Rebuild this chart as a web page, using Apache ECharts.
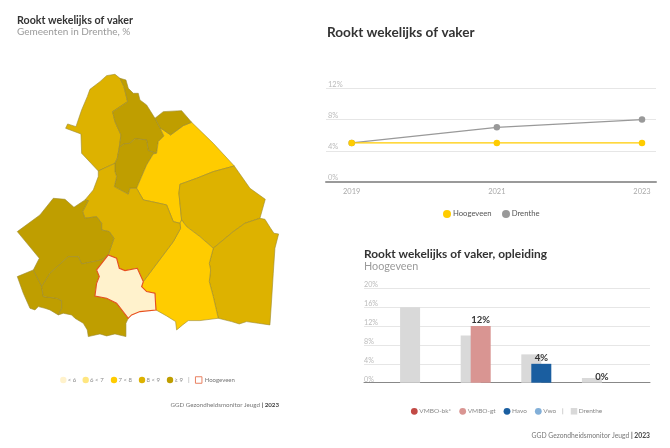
<!DOCTYPE html>
<html>
<head>
<meta charset="utf-8">
<style>html,body{margin:0;padding:0;background:#fff}#c{width:670px;height:448px}</style>
<script src="https://cdn.jsdelivr.net/npm/echarts@6/dist/echarts.min.js"></script>
</head>
<body>
<div id="c"></div>
<script>
// Map classes
const classLabels = ['< 6', '6 < 7', '7 < 8', '8 < 9', '≥ 9'];
const classLimits = [6, 7, 8, 9, Infinity];
const classColors = ['#FFF2CC', '#FFE680', '#FFCC00', '#DDB200', '#BF9E00'];

// Municipalities and their share of weekly smokers (%)
const gemeenten = ['Noordenveld', 'Tynaarlo', 'Assen', 'Aa en Hunze', 'Noord', 'Borger-Odoorn', 'Emmen', 'Coevorden', 'Midden-Drenthe', 'Westerveld', 'Meppel', 'De Wolden', 'Hoogeveen'];
const gemeenteWaarden = [8.5, 9.5, 9.5, 7.5, 9.5, 8.5, 8.5, 7.5, 8.5, 9.5, 9.5, 9.5, 5];

// Municipal outlines, in map units
const outlines = {
  'Noordenveld': [[197,205],[203,192],[228,200],[245,150],[262,110],[270,88],[300,65],[320,47],[345,43],[360,55],[372,80],[383,125],[338,155],[345,185],[363,225],[358,262],[352,295],[345,310],[295,333],[245,280],[243,222]],
  'Tynaarlo': [[360,55],[378,60],[385,85],[400,100],[415,100],[420,120],[440,135],[465,175],[480,203],[492,228],[475,245],[470,280],[445,272],[440,240],[405,236],[390,250],[372,252],[358,262],[363,225],[345,185],[338,155],[383,125],[372,80]],
  'Assen': [[358,262],[372,252],[390,250],[405,236],[440,240],[445,272],[470,280],[460,282],[440,315],[410,385],[390,385],[385,403],[343,380],[350,350],[345,335],[345,310],[352,295]],
  'Noord': [[465,175],[490,155],[545,152],[575,187],[550,197],[512,225],[480,203]],
  'Aa en Hunze': [[575,187],[640,250],[703,318],[640,335],[590,355],[540,373],[537,400],[545,480],[540,490],[520,485],[500,435],[455,425],[430,420],[410,385],[440,315],[460,282],[470,280],[475,245],[492,228],[480,203],[512,225],[550,197]],
  'Borger-Odoorn': [[703,318],[750,385],[796,418],[780,475],[735,490],[700,515],[640,565],[600,530],[560,500],[545,480],[537,400],[540,373],[590,355],[640,335]],
  'Emmen': [[780,475],[795,478],[812,505],[822,520],[836,522],[825,565],[820,640],[815,720],[810,795],[775,790],[740,785],[718,792],[695,785],[655,775],[640,710],[628,665],[632,630],[628,610],[640,565],[700,515],[735,490]],
  'Coevorden': [[545,480],[560,500],[600,530],[640,565],[628,610],[632,630],[628,665],[640,710],[655,775],[600,782],[565,782],[548,795],[530,810],[527,785],[500,768],[468,750],[465,700],[440,695],[425,680],[430,665],[490,585],[520,545],[542,505],[540,490]],
  'Midden-Drenthe': [[295,333],[345,310],[345,335],[350,350],[343,380],[385,403],[390,385],[410,385],[430,420],[455,425],[500,435],[520,485],[540,490],[542,505],[520,545],[490,585],[430,665],[412,625],[375,632],[358,625],[350,595],[325,585],[342,535],[328,515],[305,510],[305,490],[290,470],[255,475],[248,455],[265,422],[255,420],[280,390],[295,350]],
  'Westerveld': [[52,515],[120,465],[160,415],[195,418],[222,442],[255,420],[265,422],[248,455],[255,475],[290,470],[305,490],[305,510],[328,515],[342,535],[325,585],[305,600],[280,605],[245,612],[235,590],[205,590],[150,640],[125,680],[100,630],[118,595]],
  'Meppel': [[52,650],[100,630],[125,680],[130,710],[170,715],[185,722],[185,745],[175,765],[150,750],[135,745],[115,740],[105,750],[90,745],[70,700]],
  'De Wolden': [[125,680],[150,640],[205,590],[235,590],[245,612],[280,605],[305,600],[325,585],[290,630],[298,650],[290,670],[285,708],[320,715],[350,730],[385,775],[378,790],[378,830],[345,822],[320,828],[300,822],[265,830],[262,810],[250,790],[225,775],[215,765],[190,760],[175,765],[185,745],[185,722],[170,715],[130,710]],
  'Hoogeveen': [[325,585],[350,595],[358,625],[375,632],[412,625],[430,665],[425,680],[440,695],[465,700],[468,750],[420,755],[395,765],[385,775],[350,730],[320,715],[285,708],[290,670],[298,650],[290,630]]
};

// Trend chart
const trendYears = [2019, 2021, 2023];
const trendHoogeveen = [5, 5, 5];
const trendDrenthe = [5, 7, 8];

// Education chart
const opleidingen = ['VMBO-bk*', 'VMBO-gt', 'Havo', 'Vwo'];
const opleidingColors = ['#C24A45', '#D99592', '#1A5EA0', '#82AFD8'];
const opleidingHoogeveen = [null, 12, 4, 0];
const opleidingDrenthe = [16, 10, 6, 1];
const drentheGrey = '#D9D9D9';

const FONT = 'Lato, "Noto Sans", sans-serif';
const GREY_TEXT = '#9a9a9a';

echarts.registerMap('drenthe', {
  type: 'FeatureCollection',
  features: gemeenten.map(name => ({
    type: 'Feature',
    properties: { name },
    geometry: { type: 'Polygon', coordinates: [outlines[name].concat([outlines[name][0]])] }
  }))
});

const classColor = v => classColors[classLimits.findIndex(l => v < l)];

function text(x, y, style) {
  return { type: 'text', x, y, silent: true, style: Object.assign({ fontFamily: FONT, verticalAlign: 'middle', align: 'left' }, style) };
}
const dot = (x, y, r, fill) => ({ type: 'circle', silent: true, shape: { cx: x, cy: y, r }, style: { fill } });
const box = (x, y, s, fill, stroke) => ({ type: 'rect', silent: true, shape: { x: x - s / 2, y: y - s / 2, width: s, height: s }, style: { fill, stroke, lineWidth: stroke ? 1 : 0 } });
const pipe = (x, y, h) => ({ type: 'line', silent: true, shape: { x1: x, y1: y - h / 2, x2: x, y2: y + h / 2 }, style: { stroke: '#bbb', lineWidth: 0.7 } });

function source(right, y, size) {
  return text(right, y, {
    text: '{a|GGD Gezondheidsmonitor Jeugd }{b|| 2023}', align: 'right',
    rich: {
      a: { fontFamily: FONT, fontSize: size, fill: '#777', color: '#777' },
      b: { fontFamily: FONT, fontSize: size, fontWeight: 'bold', fill: '#444', color: '#444' }
    }
  });
}

const graphics = [
  text(17, 21, { text: 'Rookt wekelijks of vaker', fontSize: 10.7, fontWeight: 'bold', fill: '#333' }),
  text(17, 32, { text: 'Gemeenten in Drenthe, %', fontSize: 10, fill: GREY_TEXT }),
  text(327, 33, { text: 'Rookt wekelijks of vaker', fontSize: 13.6, fontWeight: 'bold', fill: '#333' }),
  text(364, 254, { text: 'Rookt wekelijks of vaker, opleiding', fontSize: 11.9, fontWeight: 'bold', fill: '#333' }),
  text(364, 267, { text: 'Hoogeveen', fontSize: 10.8, fill: GREY_TEXT })
];

// Map legend
[63.3, 85.7, 114, 142, 170].forEach((x, i) => {
  graphics.push(dot(x, 380, 3.2, classColors[i]));
  graphics.push(text(x + 4.4, 380, { text: classLabels[i], fontSize: 6, fill: '#888' }));
});
graphics.push(pipe(188.7, 380, 6), box(198.7, 380, 6.5, '#fff', '#E98060'));
graphics.push(text(204.7, 380, { text: 'Hoogeveen', fontSize: 6, fill: '#777' }));

// Trend legend
graphics.push(dot(447, 214, 4, '#FFCC00'), text(453, 214, { text: 'Hoogeveen', fontSize: 7.7, fill: '#555' }));
graphics.push(dot(506, 214, 4, '#999999'), text(511.7, 214, { text: 'Drenthe', fontSize: 7.7, fill: '#555' }));

// Education legend
[414.3, 462.7, 507, 538.3].forEach((x, i) => {
  graphics.push(dot(x, 411.3, 3.4, opleidingColors[i]));
  graphics.push(text(x + 5, 411.3, { text: opleidingen[i], fontSize: 6.5, fill: '#888' }));
});
graphics.push(pipe(562.7, 411.3, 6), box(574, 411.3, 6.5, drentheGrey));
graphics.push(text(578.7, 411.3, { text: 'Drenthe', fontSize: 6.5, fill: '#888' }));

graphics.push(source(279, 405, 6.2), source(650, 435.7, 6.75));

const chart = echarts.init(document.getElementById('c'), null, { renderer: 'canvas' });
chart.setOption({
  animation: false,
  backgroundColor: '#fff',
  textStyle: { fontFamily: FONT },
  graphic: { elements: graphics },
  grid: [
    { left: 326, width: 330, top: 88.3, height: 93.7 },
    { left: 364, width: 286, top: 288.3, height: 94.4 }
  ],
  xAxis: [
    {
      gridIndex: 0, type: 'value', min: 2018.646, max: 2023.193,
      splitLine: { show: false }, axisTick: { show: false },
      axisLine: { show: true, onZero: true, lineStyle: { color: '#9a9a9a', width: 2 } },
      axisLabel: { customValues: trendYears, formatter: v => String(v), color: '#aaa', fontSize: 7.5, margin: 6 }
    },
    {
      gridIndex: 1, type: 'value', min: -0.843, max: 3.876,
      splitLine: { show: false }, axisTick: { show: false }, axisLabel: { show: false },
      axisLine: { show: true, lineStyle: { color: '#888', width: 1 } }
    }
  ],
  yAxis: [
    {
      gridIndex: 0, type: 'value', min: 0, max: 12, interval: 4,
      axisLine: { show: false }, axisTick: { show: false },
      splitLine: { lineStyle: { color: '#e6e6e6', width: 1 } },
      axisLabel: { inside: true, verticalAlign: 'bottom', margin: 2, color: '#bbb', fontSize: 7.5, formatter: '{value}%' }
    },
    {
      gridIndex: 1, type: 'value', min: 0, max: 20, interval: 4,
      axisLine: { show: false }, axisTick: { show: false },
      splitLine: { lineStyle: { color: '#e6e6e6', width: 1 } },
      axisLabel: { inside: true, verticalAlign: 'bottom', margin: 0, color: '#bbb', fontSize: 7.2, formatter: '{value}%' }
    }
  ],
  series: [
    {
      type: 'map', map: 'drenthe', silent: true, selectedMode: false,
      projection: { project: p => p, unproject: p => p },
      left: 17.3, top: 74.3, width: 261.3, height: 262.3,
      label: { show: false },
      data: gemeenten.map((name, i) => ({
        name, value: gemeenteWaarden[i],
        itemStyle: name === 'Hoogeveen'
          ? { areaColor: classColor(gemeenteWaarden[i]), borderColor: '#E8501E', borderWidth: 1.1 }
          : { areaColor: classColor(gemeenteWaarden[i]), borderColor: '#9C8A2E', borderWidth: 0.6 }
      }))
    },
    {
      name: 'Drenthe', type: 'line', xAxisIndex: 0, yAxisIndex: 0,
      data: trendYears.map((y, i) => [y, trendDrenthe[i]]),
      symbol: 'circle', symbolSize: 6.5, lineStyle: { color: '#999', width: 1.3 }, itemStyle: { color: '#999' }
    },
    {
      name: 'Hoogeveen', type: 'line', xAxisIndex: 0, yAxisIndex: 0,
      data: trendYears.map((y, i) => [y, trendHoogeveen[i]]),
      symbol: 'circle', symbolSize: 6.5, lineStyle: { color: '#FFCC00', width: 1.3 }, itemStyle: { color: '#FFCC00' }
    },
    {
      name: 'Drenthe', type: 'bar', xAxisIndex: 1, yAxisIndex: 1,
      barWidth: 20, barGap: '-50%',
      data: opleidingDrenthe.map((v, i) => [i, v]),
      itemStyle: { color: drentheGrey }
    },
    {
      name: 'Hoogeveen', type: 'bar', xAxisIndex: 1, yAxisIndex: 1,
      barWidth: 20, barGap: '-50%',
      data: opleidingHoogeveen.map((v, i) => [i, v]).filter(d => d[1] !== null),
      itemStyle: { color: p => opleidingColors[p.value[0]] },
      label: {
        show: true, position: 'top', distance: 1, formatter: p => p.value[1] + '%',
        fontFamily: FONT, fontSize: 9.5, fontWeight: 'bold', color: '#333'
      }
    }
  ]
});
</script>
</body>
</html>
